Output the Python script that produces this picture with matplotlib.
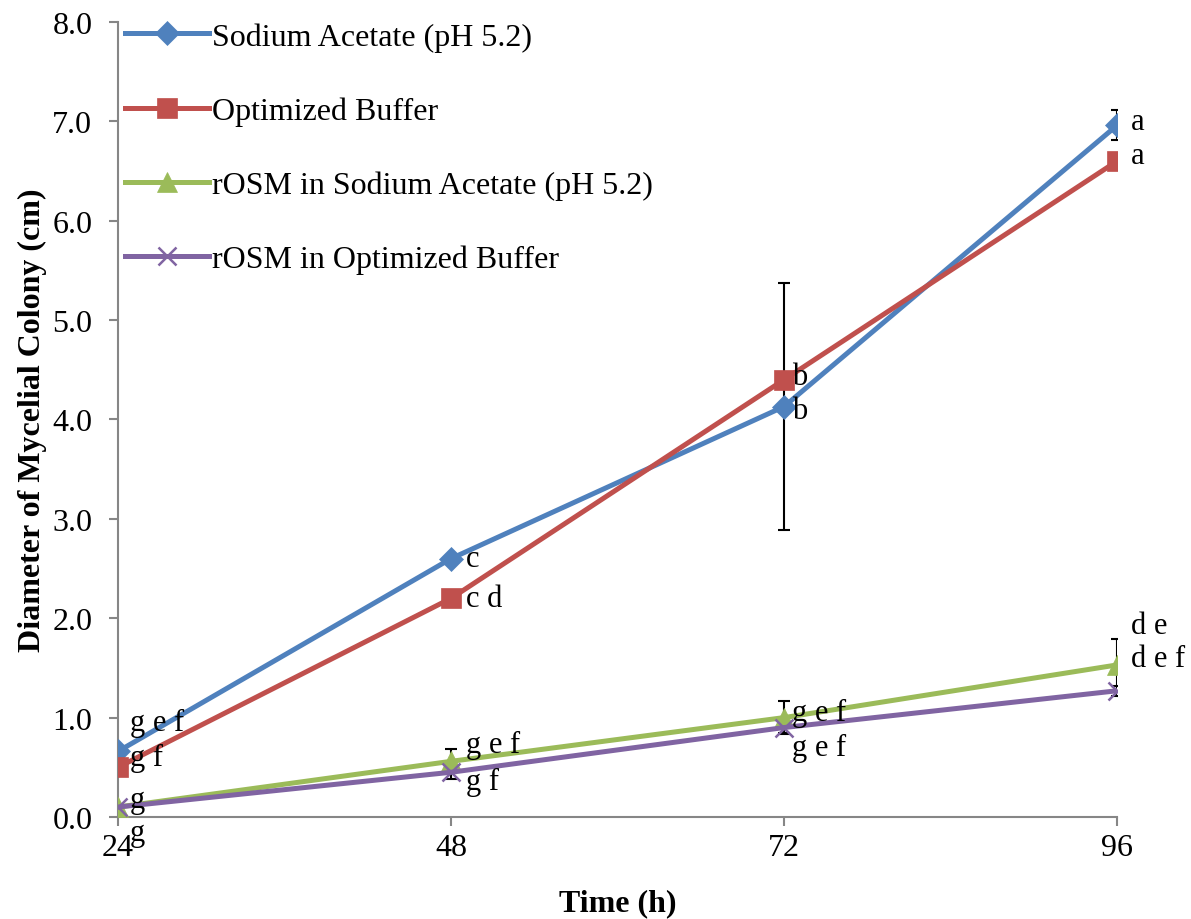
import matplotlib.pyplot as plt

plt.rcParams['font.family'] = ['Liberation Serif', 'DejaVu Serif']

hours = [24, 48, 72, 96]

sodium_acetate = [0.66, 2.60, 4.13, 6.96]
optimized = [0.50, 2.20, 4.40, 6.60]
rosm_sodium = [0.10, 0.56, 1.00, 1.53]
rosm_optimized = [0.10, 0.45, 0.90, 1.27]

err_sodium_acetate = [0, 0, 1.24, 0.15]
err_optimized = [0, 0.03, 0, 0]
err_rosm_sodium = [0, 0.12, 0.17, 0.26]
err_rosm_optimized = [0, 0.07, 0.05, 0.05]

letters_sodium_acetate = ["g e f", "c", "b", "a"]
letters_optimized = ["g f", "c d", "b", "a"]
letters_rosm_sodium = ["g", "g e f", "g e f", "d e"]
letters_rosm_optimized = ["g", "g f", "g e f", "d e f"]

series = [
    ("Sodium Acetate (pH 5.2)", sodium_acetate, err_sodium_acetate, letters_sodium_acetate, "#4F81BD", "D", 12),
    ("Optimized Buffer", optimized, err_optimized, letters_optimized, "#C0504D", "s", 14),
    ("rOSM in Sodium Acetate (pH 5.2)", rosm_sodium, err_rosm_sodium, letters_rosm_sodium, "#9BBB59", "^", 14),
    ("rOSM in Optimized Buffer", rosm_optimized, err_rosm_optimized, letters_rosm_optimized, "#8064A2", "x", 13),
]

# label offsets in pixels (dx per time point, dy per series/point)
dx = [12, 15, 8, 14]
dy = [
    [29, 0, -4, 4],
    [10, 0, 3, 6],
    [8, 17, 5, 39],
    [-25, -9, -20, 32],
]

fig = plt.figure(figsize=(11.91, 9.2), dpi=100)
ax = fig.add_axes([0.0991, 0.1109, 0.8388, 0.8641])

for i, (name, vals, errs, letters, color, marker, ms) in enumerate(series):
    ax.errorbar(hours, vals, yerr=errs, fmt='none', ecolor='black', elinewidth=1.5,
                capsize=4.5, capthick=1.5, zorder=2)
    ax.plot(hours, vals, color=color, lw=3.6, marker=marker, ms=ms,
            mew=1.8 if marker == 'x' else 0.5, mec=color, label=name, zorder=3)
    for j, (h, v, t) in enumerate(zip(hours, vals, letters)):
        ax.annotate(t, (h, v), xytext=(dx[j], dy[i][j]), textcoords='offset pixels',
                    ha='left', va='center', fontsize=22, zorder=4, annotation_clip=False)

ax.set_xlim(24, 96)
ax.set_ylim(0, 8)
ax.set_xticks(hours)
ax.set_xticklabels([str(h) for h in hours])
ax.set_yticks([i for i in range(9)])
ax.set_yticklabels([f"{i:.1f}" for i in range(9)])
for s in ['top', 'right']:
    ax.spines[s].set_visible(False)
for s in ['left', 'bottom']:
    ax.spines[s].set_color('#868686')
    ax.spines[s].set_linewidth(1.5)
ax.tick_params(axis='both', direction='out', length=6.5, width=1.5, color='#868686',
               labelsize=23)
ax.tick_params(axis='y', pad=12)
ax.tick_params(axis='x', pad=5)

ax.set_xlabel("Time (h)", fontsize=23, fontweight='bold', labelpad=19)
ax.set_ylabel("Diameter of Mycelial Colony (cm)", fontsize=23, fontweight='bold', labelpad=4)

leg = ax.legend(loc='upper left', bbox_to_anchor=(-0.003, 1.012), frameon=False, fontsize=23,
                handlelength=2.65, handletextpad=0.1, labelspacing=1.4, borderaxespad=0.1,
                borderpad=0.2)

fig.savefig("out.png", dpi=100)
